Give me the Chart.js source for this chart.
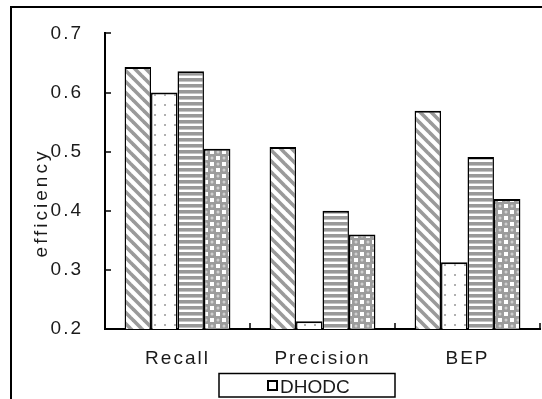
<!DOCTYPE html>
<html lang="en">
<head>
  <meta charset="UTF-8">
  <title>efficiency</title>
  <script src="https://cdn.jsdelivr.net/npm/chart.js"></script>
  <style>
    html, body { margin: 0; padding: 0; background: #fff; }
    #wrap { width: 542px; height: 399px; }
  </style>
</head>
<body>
  <div id="wrap"><canvas id="chart" width="542" height="399"></canvas></div>
  <script>
    const categories = ['Recall', 'Precision', 'BEP'];
    const seriesNames = ['Series 1', 'DHODC', 'Series 3', 'Series 4'];
    const series1 = [0.643, 0.508, 0.569];
    const series2 = [0.600, 0.213, 0.313];
    const series3 = [0.636, 0.400, 0.491];
    const series4 = [0.505, 0.360, 0.420];
    const yTicks = [0.2, 0.3, 0.4, 0.5, 0.6, 0.7];
    const yTitle = 'efficiency';
    const FONT = '"Liberation Sans", Arial, sans-serif';

    function tile(w, h, paint) {
      const c = document.createElement('canvas');
      c.width = w; c.height = h;
      const g = c.getContext('2d');
      g.fillStyle = '#fff'; g.fillRect(0, 0, w, h);
      paint(g, w, h);
      return document.getElementById('chart').getContext('2d').createPattern(c, 'repeat');
    }
    const diagonal = tile(11, 11, (g, w) => {
      g.strokeStyle = '#9a9a9a'; g.lineWidth = 3.6;
      [-w, 0, w].forEach(o => { g.beginPath(); g.moveTo(o - 2, -2); g.lineTo(o + w + 2, w + 2); g.stroke(); });
    });
    const dotted = tile(10, 10, g => {
      g.fillStyle = '#b0b0b0'; g.fillRect(4, 4, 2, 2);
    });
    const striped = tile(6, 6, g => {
      g.fillStyle = '#999'; g.fillRect(0, 0, 6, 3);
      g.fillStyle = '#c4c4c4'; g.fillRect(0, 3, 6, 1);
    });
    const bubbles = tile(12, 12, g => {
      g.fillStyle = '#9c9c9c'; g.fillRect(0, 0, 12, 12);
      g.fillStyle = '#fff'; g.fillRect(0, 0, 4, 4); g.fillRect(6, 6, 4, 4);
      g.fillStyle = '#d0d0d0';
      g.beginPath(); g.arc(8, 2, 1.5, 0, Math.PI * 2); g.fill();
      g.beginPath(); g.arc(2, 8, 1.5, 0, Math.PI * 2); g.fill();
    });

    const decor = {
      id: 'decor',
      beforeDraw(chart) {
        chart.ctx.letterSpacing = '2px';
      },
      afterDraw(chart) {
        const ctx = chart.ctx, x = chart.scales.x, y = chart.scales.y;
        ctx.save();
        ctx.strokeStyle = '#000';
        ctx.lineWidth = 2;
        ctx.strokeRect(11, 7, 700, 700);
        // inside ticks
        ctx.lineWidth = 1.5;
        yTicks.forEach(v => {
          const py = Math.round(y.getPixelForValue(v));
          ctx.beginPath(); ctx.moveTo(y.right, py); ctx.lineTo(y.right + 6, py); ctx.stroke();
        });
        for (let i = 0; i <= categories.length; i++) {
          const px = Math.round(x.getPixelForValue(i - 0.5));
          ctx.beginPath(); ctx.moveTo(px, x.top); ctx.lineTo(px, x.top - 6); ctx.stroke();
        }
        // y title
        ctx.letterSpacing = '3px';
        ctx.fillStyle = '#1a1a1a';
        ctx.font = '19px ' + FONT;
        ctx.translate(47, 203);
        ctx.rotate(-Math.PI / 2);
        ctx.textAlign = 'center';
        ctx.textBaseline = 'alphabetic';
        ctx.fillText(yTitle, 0, 0);
        ctx.setTransform(1, 0, 0, 1, 0, 0);
        // legend
        ctx.letterSpacing = '0px';
        ctx.lineWidth = 1.5;
        ctx.strokeRect(219, 373.5, 176, 23.5);
        ctx.lineWidth = 2;
        ctx.fillStyle = '#fff';
        ctx.fillRect(268, 381, 9, 9);
        ctx.strokeRect(268, 381, 9, 9);
        ctx.fillStyle = '#1a1a1a';
        ctx.textAlign = 'left';
        ctx.fillText(chart.data.datasets[1].label, 280, 393);
        ctx.restore();
      }
    };

    const fills = [diagonal, dotted, striped, bubbles];
    const values = [series1, series2, series3, series4];

    new Chart(document.getElementById('chart'), {
      type: 'bar',
      data: {
        labels: categories,
        datasets: values.map((d, i) => ({
          label: seriesNames[i],
          data: d,
          backgroundColor: fills[i],
          borderColor: '#000',
          borderWidth: { top: 2, left: 1.5, right: 1.5, bottom: 0 },
          borderSkipped: 'bottom',
          categoryPercentage: 0.73,
          barPercentage: 1
        }))
      },
      options: {
        responsive: false,
        animation: false,
        layout: { padding: { top: 31, right: 2, left: 0, bottom: 0 } },
        plugins: { legend: { display: false }, tooltip: { enabled: false } },
        scales: {
          x: {
            offset: true,
            grid: { display: false },
            border: { display: true, color: '#000', width: 2 },
            ticks: { color: '#1a1a1a', font: { family: FONT, size: 19 }, padding: 10 },
            afterFit(s) { s.height = 70; }
          },
          y: {
            min: 0.2, max: 0.7,
            grid: { display: false, drawTicks: false },
            border: { display: true, color: '#000', width: 2 },
            afterBuildTicks(s) { s.ticks = yTicks.map(v => ({ value: v })); },
            ticks: { color: '#1a1a1a', font: { family: FONT, size: 19 }, padding: 22,
                     callback: v => v.toFixed(1) },
            afterFit(s) { s.width = 105; }
          }
        }
      },
      plugins: [decor]
    });
  </script>
</body>
</html>
